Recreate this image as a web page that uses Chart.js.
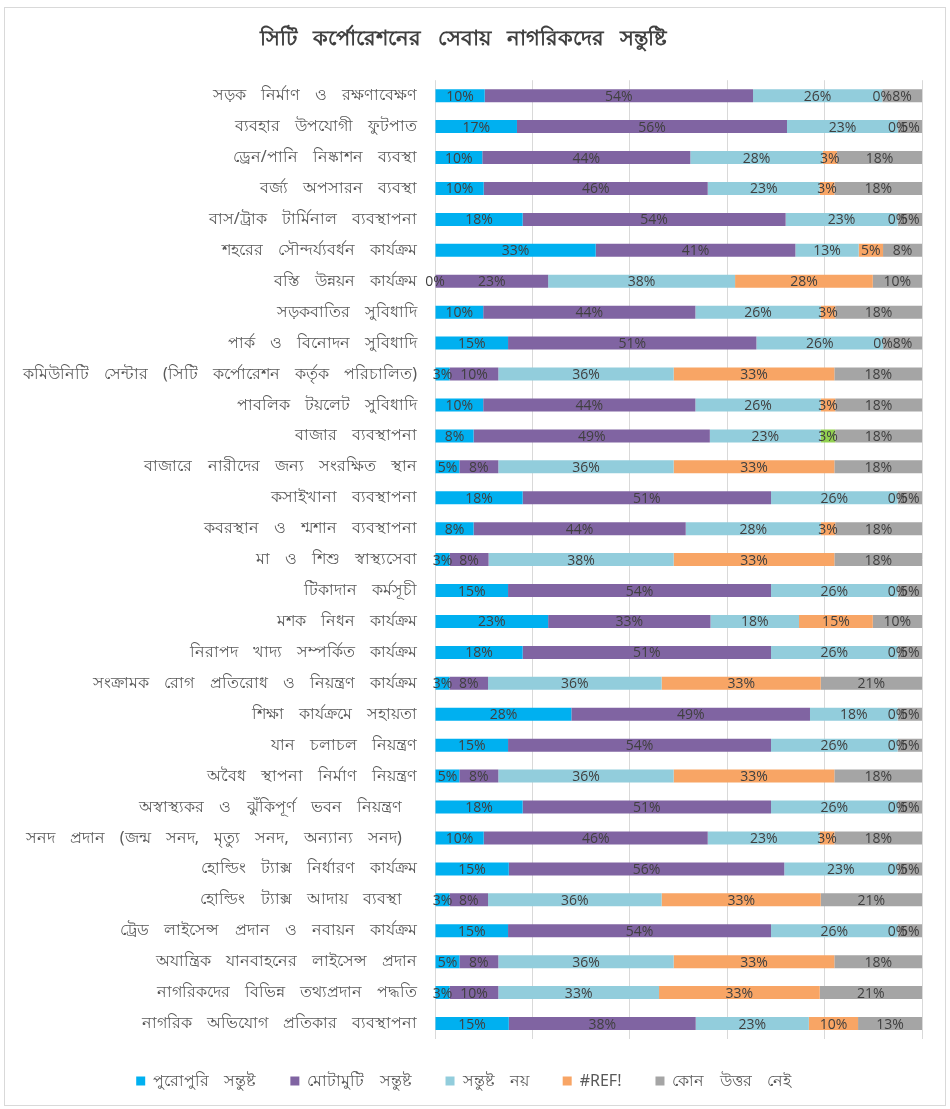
<!DOCTYPE html>
<html>
<head>
<meta charset="utf-8">
<script src="https://cdn.jsdelivr.net/npm/chart.js@4/dist/chart.umd.min.js"></script>
<style>
    body { margin: 0; background: #fff; }
    #box { position: absolute; left: 4px; top: 7px; width: 940px; height: 1097px; border: 1px solid #d9d9d9; }
</style>
</head>
<body>
<div id="box"><canvas id="satisfaction-chart" width="940" height="1097"></canvas></div>
<script>
const services = [
    'সড়ক নির্মাণ ও রক্ষণাবেক্ষণ',
    'ব্যবহার উপযোগী ফুটপাত',
    'ড্রেন/পানি নিষ্কাশন ব্যবস্থা',
    'বর্জ্য অপসারন ব্যবস্থা',
    'বাস/ট্রাক টার্মিনাল ব্যবস্থাপনা',
    'শহরের সৌন্দর্য্যবর্ধন কার্যক্রম',
    'বস্তি উন্নয়ন কার্যক্রম',
    'সড়কবাতির সুবিধাদি',
    'পার্ক ও বিনোদন সুবিধাদি',
    'কমিউনিটি সেন্টার (সিটি কর্পোরেশন কর্তৃক পরিচালিত)',
    'পাবলিক টয়লেট সুবিধাদি',
    'বাজার ব্যবস্থাপনা',
    'বাজারে নারীদের জন্য সংরক্ষিত স্থান',
    'কসাইখানা ব্যবস্থাপনা',
    'কবরস্থান ও শ্মশান ব্যবস্থাপনা',
    'মা ও শিশু স্বাস্থ্যসেবা',
    'টিকাদান কর্মসূচী',
    'মশক নিধন কার্যক্রম',
    'নিরাপদ খাদ্য সম্পর্কিত কার্যক্রম',
    'সংক্রামক রোগ প্রতিরোধ ও নিয়ন্ত্রণ কার্যক্রম',
    'শিক্ষা কার্যক্রমে সহায়তা',
    'যান চলাচল নিয়ন্ত্রণ',
    'অবৈধ স্থাপনা নির্মাণ নিয়ন্ত্রণ',
    'অস্বাস্থ্যকর ও ঝুঁকিপূর্ণ ভবন নিয়ন্ত্রণ ',
    'সনদ প্রদান (জন্ম সনদ, মৃত্যু সনদ, অন্যান্য সনদ) ',
    'হোল্ডিং ট্যাক্স নির্ধারণ কার্যক্রম',
    'হোল্ডিং ট্যাক্স আদায় ব্যবস্থা ',
    'ট্রেড লাইসেন্স প্রদান ও নবায়ন কার্যক্রম',
    'অযান্ত্রিক যানবাহনের লাইসেন্স প্রদান',
    'নাগরিকদের বিভিন্ন তথ্যপ্রদান পদ্ধতি',
    'নাগরিক অভিযোগ প্রতিকার ব্যবস্থাপনা'
];

// percent values per answer, same order as services
const fullySatisfied = [10, 17, 10, 10, 18, 33, 0, 10, 15, 3, 10, 8, 5, 18, 8, 3, 15, 23, 18, 3, 28, 15, 5, 18, 10, 15, 3, 15, 5, 3, 15];
const mostlySatisfied = [54, 56, 44, 46, 54, 41, 23, 44, 51, 10, 44, 49, 8, 51, 44, 8, 54, 33, 51, 8, 49, 54, 8, 51, 46, 56, 8, 54, 8, 10, 38];
const notSatisfied = [26, 23, 28, 23, 23, 13, 38, 26, 26, 36, 26, 23, 36, 26, 28, 38, 26, 18, 26, 36, 18, 26, 36, 26, 23, 23, 36, 26, 36, 33, 23];
const refError = [0, 0, 3, 3, 0, 5, 28, 3, 0, 33, 3, 3, 33, 0, 3, 33, 0, 15, 0, 33, 0, 0, 33, 0, 3, 0, 33, 0, 33, 33, 10];
const noAnswer = [8, 5, 18, 18, 5, 8, 10, 18, 8, 18, 18, 18, 18, 5, 18, 18, 5, 10, 5, 21, 5, 5, 18, 5, 18, 5, 21, 5, 18, 21, 13];

const seriesNames = ['পুরোপুরি সন্তুষ্ট', 'মোটামুটি সন্তুষ্ট', 'সন্তুষ্ট নয়', '#REF!', 'কোন উত্তর নেই'];
const seriesValues = [fullySatisfied, mostlySatisfied, notSatisfied, refError, noAnswer];
const seriesColors = ['#00B0F0', '#8064A2', '#92CDDC', '#F8A565', '#A5A5A5'];

// 100% stacked: each row is scaled to its own total
const rowTotals = services.map((s, i) => seriesValues.reduce((sum, arr) => sum + arr[i], 0));

const datasets = seriesValues.map((values, k) => ({
    label: seriesNames[k],
    raw: values,
    data: values.map((v, i) => v / rowTotals[i] * 100),
    backgroundColor: values.map((v, i) => (k === 3 && i === 11) ? '#92D050' : seriesColors[k]),
    borderWidth: 0,
    barPercentage: 0.42,
    categoryPercentage: 1
}));

// the original chart has wide gaps between Bengali words
const wideWords = {
    id: 'wideWords',
    beforeUpdate(chart) { chart.ctx.wordSpacing = '11px'; },
    beforeDraw(chart) { chart.ctx.wordSpacing = '11px'; }
};

// draw the percent label in the middle of every segment
const segmentLabels = {
    id: 'segmentLabels',
    afterDatasetsDraw(chart) {
        const ctx = chart.ctx;
        ctx.save();
        ctx.font = '14px "Open Sans", "Noto Sans", sans-serif';
        ctx.fillStyle = '#404040';
        ctx.textAlign = 'center';
        ctx.textBaseline = 'middle';
        chart.data.datasets.forEach((ds, k) => {
            chart.getDatasetMeta(k).data.forEach((bar, i) => {
                const p = bar.getProps(['x', 'y', 'base'], true);
                ctx.fillText(ds.raw[i] + '%', (p.x + p.base) / 2, p.y + 1);
            });
        });
        ctx.restore();
    }
};

new Chart(document.getElementById('satisfaction-chart'), {
    type: 'bar',
    data: { labels: services, datasets: datasets },
    plugins: [wideWords, segmentLabels],
    options: {
        indexAxis: 'y',
        responsive: false,
        animation: false,
        layout: { padding: { left: 0, right: 23, top: 0, bottom: 6 } },
        scales: {
            x: {
                stacked: true,
                min: 0,
                max: 100,
                ticks: { display: false, stepSize: 20 },
                grid: { color: '#d9d9d9', drawTicks: false },
                border: { display: false },
                afterFit: (scale) => { scale.height = 0; }
            },
            y: {
                stacked: true,
                grid: { display: false, drawTicks: false },
                border: { display: false },
                ticks: {
                    padding: 18,
                    color: '#595959',
                    font: { size: 16, family: '"Noto Sans", sans-serif' }
                },
                afterFit: (scale) => { scale.width = 430; }
            }
        },
        plugins: {
            title: {
                display: true,
                text: 'সিটি কর্পোরেশনের সেবায় নাগরিকদের সন্তুষ্টি',
                color: '#404040',
                font: { size: 21, weight: 'bold', family: '"Noto Sans", sans-serif' },
                padding: { top: 18, bottom: 29 }
            },
            legend: {
                position: 'bottom',
                labels: {
                    boxWidth: 9,
                    boxHeight: 9,
                    padding: 34,
                    color: '#595959',
                    font: { size: 16, family: '"Noto Sans", sans-serif' }
                }
            },
            tooltip: { enabled: false }
        }
    }
});
</script>
</body>
</html>
